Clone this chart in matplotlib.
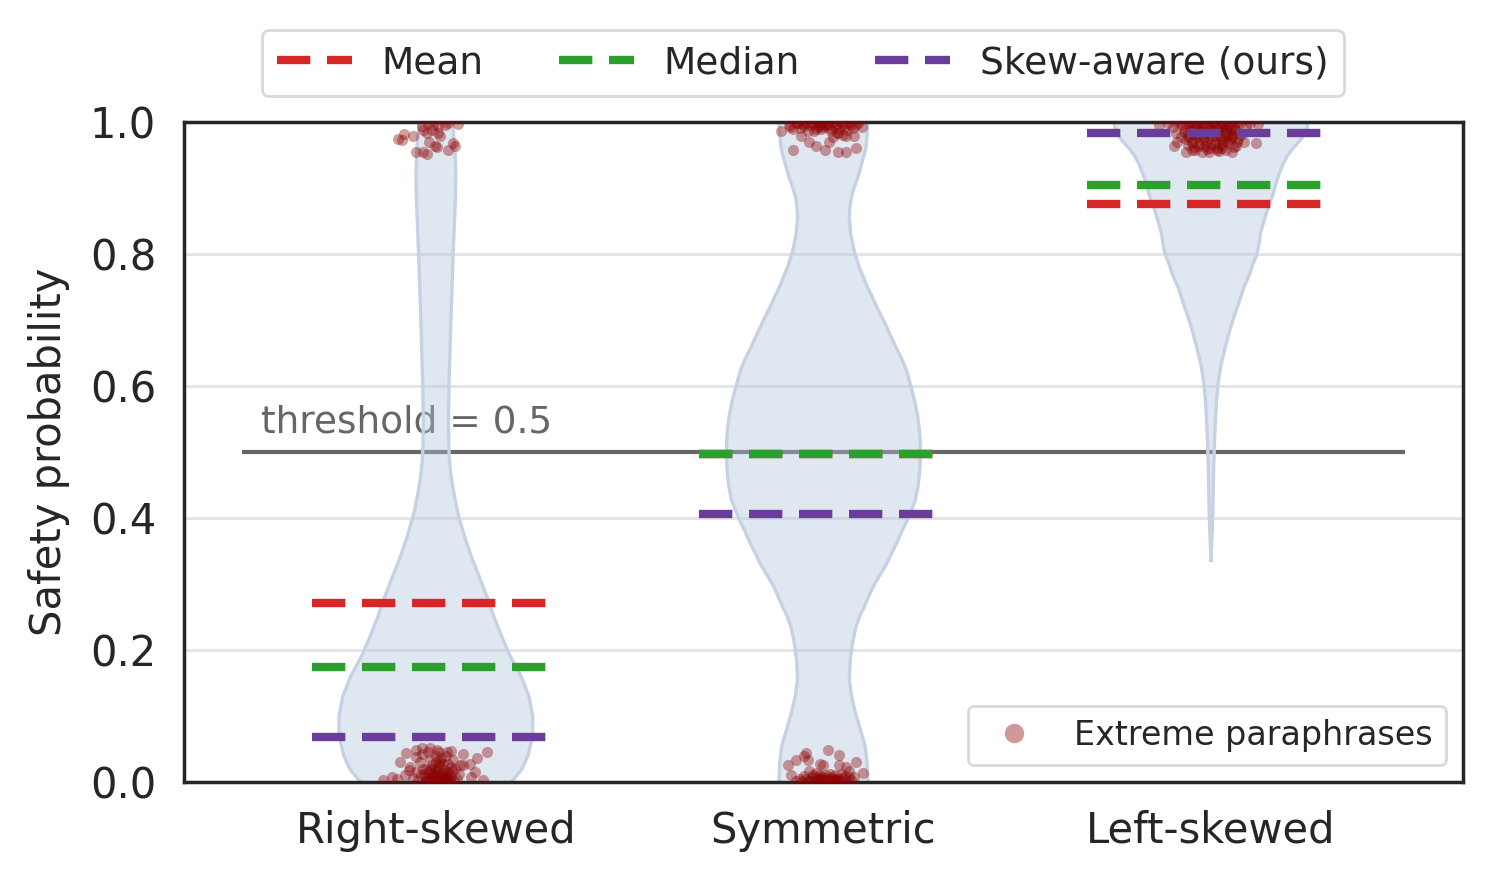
import matplotlib
matplotlib.use("Agg")
import matplotlib.pyplot as plt
from matplotlib.lines import Line2D
import numpy as np

# ----------------------------------------------------
# Data
# ----------------------------------------------------
categories = ["Right-skewed", "Symmetric", "Left-skewed"]
mean_vals = [0.271, 0.497, 0.876]
median_vals = [0.174, 0.497, 0.905]
skew_vals = [0.068, 0.406, 0.983]

# violin density profiles (relative density, max = 1)
rs_y = [0.000, 0.020, 0.040, 0.070, 0.100, 0.130, 0.160, 0.190, 0.220, 0.250,
        0.280, 0.310, 0.340, 0.370, 0.400, 0.415, 0.430, 0.445, 0.460, 0.475,
        0.490, 0.505, 0.520, 0.540, 0.560, 0.610, 0.700, 0.800, 0.880, 0.920,
        0.960, 1.000]
rs_density = [0.78, 0.89, 0.95, 1.00, 1.00, 0.96, 0.88, 0.77, 0.68, 0.60,
              0.53, 0.45, 0.37, 0.30, 0.24, 0.216, 0.196, 0.176, 0.16, 0.148,
              0.139, 0.135, 0.132, 0.131, 0.131, 0.137, 0.155, 0.178, 0.200, 0.206,
              0.196, 0.170]

sym_y = [0.000, 0.030, 0.055, 0.080, 0.105, 0.130, 0.156, 0.185, 0.210, 0.234,
         0.250, 0.265, 0.282, 0.298, 0.314, 0.330, 0.347, 0.363, 0.380, 0.395,
         0.412, 0.428, 0.447, 0.465, 0.483, 0.500, 0.518, 0.535, 0.557, 0.575,
         0.590, 0.606, 0.622, 0.639, 0.655, 0.671, 0.687, 0.704, 0.720, 0.736,
         0.751, 0.766, 0.780, 0.803, 0.830, 0.855, 0.870, 0.885, 0.900, 0.914,
         0.928, 0.940, 0.959, 0.980, 1.000]
sym_density = [0.46, 0.45, 0.43, 0.38, 0.33, 0.29, 0.267, 0.277, 0.30, 0.333,
               0.37, 0.42, 0.47, 0.52, 0.585, 0.65, 0.705, 0.76, 0.81, 0.86,
               0.91, 0.95, 0.975, 0.99, 0.998, 1.00, 0.998, 0.99, 0.97, 0.945,
               0.92, 0.89, 0.86, 0.815, 0.76, 0.71, 0.66, 0.605, 0.55, 0.50,
               0.45, 0.41, 0.37, 0.32, 0.282, 0.267, 0.272, 0.287, 0.315, 0.35,
               0.378, 0.40, 0.436, 0.451, 0.456]

ls_y = [0.336, 0.370, 0.405, 0.440, 0.480, 0.505, 0.531, 0.555, 0.582, 0.607,
        0.632, 0.657, 0.682, 0.705, 0.728, 0.750, 0.768, 0.785, 0.798, 0.815,
        0.834, 0.855, 0.874, 0.890, 0.910, 0.920, 0.935, 0.948, 0.960, 0.970,
        0.980, 0.990, 1.000]
ls_density = [0.0, 0.010, 0.018, 0.023, 0.028, 0.034, 0.041, 0.048, 0.059, 0.077,
              0.103, 0.144, 0.189, 0.237, 0.292, 0.340, 0.395, 0.433, 0.471, 0.495,
              0.515, 0.557, 0.598, 0.639, 0.677, 0.701, 0.739, 0.784, 0.845, 0.907,
              0.959, 0.990, 1.000]

# extreme paraphrases: horizontal jitter and score
rs_jitter = [-0.076, -0.093, -0.050, -0.037, -0.015, 0.002, 0.028, 0.070, 0.105, 0.131,
             0.088, 0.062, -0.114, -0.136, 0.122, -0.067,
             -0.030, 0.000, 0.020, -0.010, 0.040, -0.050, 0.010, -0.020, 0.030, 0.050,
             -0.040, 0.000, 0.015, -0.015, 0.035, -0.060, 0.060, -0.025, 0.025, 0.005,
             -0.045, 0.045, -0.005, 0.008, -0.035, 0.020, -0.070, 0.070, 0.000, -0.010,
             0.030, -0.050, 0.055, 0.012, -0.020, 0.040, -0.080, 0.090, -0.100, 0.100,
             -0.005, 0.018, -0.028, 0.038, 0.003, -0.012, 0.025, -0.038,
             -0.022, -0.008, 0.006, 0.016, 0.028, 0.042, -0.032, -0.018, 0.000, 0.012,
             0.024, 0.036, -0.026, -0.004, 0.008, 0.020, 0.032, -0.014, 0.004, 0.046,
             -0.097, -0.088, -0.082, -0.060, -0.050, -0.033, -0.024, -0.017, -0.011, -0.003,
             0.006, 0.010, 0.002, 0.032, 0.045, 0.057, -0.037, -0.007, 0.023, -0.024,
             -0.033, 0.006, 0.049, -0.020, 0.030]
rs_points = [0.044, 0.031, 0.048, 0.051, 0.051, 0.048, 0.046, 0.043, 0.036, 0.046,
             0.028, 0.026, 0.008, 0.003, 0.003, 0.023,
             0.012, 0.005, 0.018, 0.025, 0.008, 0.015, 0.032, 0.002, 0.028, 0.020,
             0.030, 0.040, 0.010, 0.035, 0.001, 0.006, 0.012, 0.020, 0.040, 0.022,
             0.002, 0.033, 0.014, 0.045, 0.042, 0.003, 0.018, 0.025, 0.030, 0.008,
             0.015, 0.038, 0.004, 0.037, 0.046, 0.047, 0.010, 0.008, 0.004, 0.015,
             0.001, 0.027, 0.007, 0.022, 0.017, 0.019, 0.006, 0.011,
             0.004, 0.009, 0.002, 0.013, 0.004, 0.016, 0.019, 0.016, 0.011, 0.001,
             0.012, 0.005, 0.002, 0.020, 0.028, 0.008, 0.010, 0.005, 0.009, 0.001,
             0.974, 0.973, 0.982, 0.979, 0.955, 0.954, 0.952, 0.970, 0.988, 0.963,
             0.983, 0.979, 0.962, 0.957, 0.968, 0.997, 0.994, 0.995, 0.995, 0.983,
             0.988, 0.994, 0.964, 0.999, 0.999]

sym_jitter = [-0.092, -0.070, -0.049, -0.045, -0.040, -0.010, -0.002, 0.011, 0.041, 0.041,
              0.058, 0.084, 0.101, -0.083, -0.036, -0.019, 0.067, 0.080,
              -0.060, -0.040, -0.020, 0.000, 0.020, 0.040, 0.060, 0.030, -0.010, 0.010,
              -0.030, 0.050, 0.070, -0.050, 0.015, -0.005, 0.025, -0.025, 0.045, -0.070,
              -0.045, -0.035, -0.015, 0.005, 0.025, 0.035, 0.055, -0.055, 0.065, -0.008,
              0.018, 0.042, -0.028, 0.002, 0.032,
              -0.109, -0.079, -0.057, -0.036, -0.019, 0.003, 0.015, 0.024, 0.037, 0.050,
              0.058, 0.080, 0.084, 0.037, 0.058, -0.079,
              -0.090, -0.070, -0.050, -0.030, -0.010, 0.010, 0.030, 0.050, 0.070, 0.090,
              -0.060, -0.040, -0.020, 0.000, 0.020, 0.040, 0.060, 0.100, -0.005, 0.015,
              -0.025, 0.045, -0.045, 0.035,
              -0.065, -0.035, -0.015, 0.005, 0.025, 0.055, 0.075, -0.055, -0.005, 0.035,
              0.065, 0.085, -0.085, 0.015, -0.025]
sym_points = [0.026, 0.034, 0.039, 0.044, 0.033, 0.028, 0.026, 0.048, 0.041, 0.026,
              0.022, 0.031, 0.014, 0.011, 0.016, 0.013, 0.016, 0.008,
              0.004, 0.002, 0.006, 0.003, 0.008, 0.004, 0.002, 0.010, 0.010, 0.001,
              0.008, 0.006, 0.003, 0.009, 0.005, 0.007, 0.002, 0.001, 0.012, 0.002,
              0.005, 0.001, 0.003, 0.010, 0.005, 0.001, 0.009, 0.001, 0.007, 0.004,
              0.012, 0.001, 0.011, 0.006, 0.004,
              0.987, 0.990, 0.979, 0.969, 0.964, 0.958, 0.970, 0.978, 0.983, 0.980,
              0.979, 0.979, 0.960, 0.954, 0.955, 0.957,
              0.996, 0.998, 0.994, 0.999, 0.995, 0.998, 0.993, 0.997, 0.995, 0.999,
              0.991, 0.986, 0.990, 0.992, 0.987, 0.990, 0.988, 0.992, 0.999, 0.996,
              0.997, 1.000, 0.999, 0.984,
              0.999, 0.996, 0.993, 0.995, 1.000, 0.994, 0.991, 0.997, 0.989, 0.997,
              0.999, 0.996, 0.993, 0.991, 0.987]

ls_jitter = [-0.095, -0.087, -0.078, -0.065, -0.048, -0.022, -0.005, 0.016, 0.029, 0.055,
             0.064, 0.085, 0.115, -0.099, -0.134, -0.091,
             -0.075, -0.060, -0.045, -0.030, -0.015, 0.000, 0.015, 0.030, 0.045, 0.060, 0.075,
             -0.070, -0.055, -0.040, -0.025, -0.010, 0.005, 0.020, 0.035, 0.050, 0.065,
             -0.065, -0.050, -0.035, -0.020, -0.005, 0.010, 0.025, 0.040, 0.055, 0.070,
             -0.060, -0.045, -0.030, -0.015, 0.000, 0.015, 0.030, 0.045, 0.060,
             -0.040, -0.010, 0.020, 0.040,
             -0.080, -0.052, -0.022, 0.008, 0.038, 0.068, 0.090, -0.090, 0.100, 0.120, -0.110,
             -0.035, 0.025, -0.002, 0.052, -0.062, 0.012, 0.078, -0.028, 0.042,
             -0.068, -0.052, -0.038, -0.022, -0.008, 0.006, 0.018, 0.032, 0.048, 0.062,
             -0.058, -0.042, -0.018, 0.002, 0.022, 0.038, 0.055, -0.048, -0.012, 0.012,
             0.028, -0.032, 0.048, 0.068, -0.002]
ls_points = [0.963, 0.970, 0.978, 0.955, 0.958, 0.954, 0.955, 0.958, 0.960, 0.955,
             0.963, 0.970, 0.968, 0.993, 0.995, 0.983,
             0.995, 0.998, 0.992, 0.999, 0.996, 0.998, 0.994, 0.999, 0.996, 0.993, 0.998,
             0.985, 0.988, 0.982, 0.986, 0.983, 0.987, 0.984, 0.988, 0.982, 0.986,
             0.975, 0.972, 0.977, 0.973, 0.976, 0.971, 0.975, 0.972, 0.977, 0.974,
             0.965, 0.962, 0.967, 0.963, 0.966, 0.961, 0.965, 0.968, 0.962,
             0.957, 0.959, 0.956, 0.958,
             0.999, 1.000, 0.991, 1.000, 0.991, 1.000, 0.996, 1.000, 0.999, 0.997, 0.998,
             0.994, 0.992, 0.990, 0.990, 0.980, 0.979, 0.981, 0.980, 0.979,
             0.990, 0.993, 0.997, 0.994, 0.992, 0.996, 0.990, 0.994, 0.999, 0.989,
             0.978, 0.980, 0.978, 0.981, 0.979, 0.983, 0.979, 0.968, 0.969, 0.966,
             0.970, 0.964, 0.974, 0.970, 0.960]

violin_y = [rs_y, sym_y, ls_y]
violin_density = [rs_density, sym_density, ls_density]
point_jitter = [rs_jitter, sym_jitter, ls_jitter]
point_vals = [rs_points, sym_points, ls_points]

# ----------------------------------------------------
# Plot
# ----------------------------------------------------
plt.rcParams["font.family"] = ["DejaVu Sans"]
text_col = "#262626"
plt.rcParams["text.color"] = text_col
plt.rcParams["axes.labelcolor"] = text_col
plt.rcParams["xtick.color"] = text_col
plt.rcParams["ytick.color"] = text_col

fig = plt.figure(figsize=(7.46, 4.415), dpi=200)
ax = fig.add_axes([0.1233, 0.1144, 0.8572, 0.7474])

half_width = 0.25
line_half = 0.32
dash = (0, (4, 2))

# threshold
ax.hlines(0.5, -0.5, 2.5, color="#666666", lw=1.5, zorder=1)
ax.text(-0.45, 0.53, "threshold = 0.5", color="#666666", fontsize=13.5,
        ha="left", va="baseline", zorder=1)

for i, cat in enumerate(categories):
    y = np.array(violin_y[i])
    w = np.array(violin_density[i]) * half_width
    ax.fill_betweenx(y, i - w, i + w, facecolor="lightsteelblue", alpha=0.4,
                     edgecolor="none", zorder=2)
    ax.plot(np.r_[i - w, (i + w)[::-1]], np.r_[y, y[::-1]],
            color="#c6d1e4", lw=1.2, zorder=2.1)

    ax.scatter(i + np.array(point_jitter[i]), point_vals[i], s=16,
               color="darkred", alpha=0.38, lw=0, zorder=3)

    ax.plot([i - line_half, i + line_half], [mean_vals[i]] * 2,
            color="#d62728", lw=3, ls=dash, zorder=4)
    ax.plot([i - line_half, i + line_half], [median_vals[i]] * 2,
            color="#2ca02c", lw=3, ls=dash, zorder=4)
    ax.plot([i - line_half, i + line_half], [skew_vals[i]] * 2,
            color="#6a3d9a", lw=3, ls=dash, zorder=4)

ax.set_xlim(-0.65, 2.65)
ax.set_ylim(0, 1)
ax.set_xticks(range(len(categories)))
ax.set_xticklabels(categories)
ax.set_yticks(np.arange(0, 1.01, 0.2))
ax.set_yticklabels([f"{v:.1f}" for v in np.arange(0, 1.01, 0.2)])
ax.tick_params(axis="both", length=0, pad=10, labelsize=15)
ax.set_ylabel("Safety probability", fontsize=15, labelpad=7)

ax.yaxis.grid(True, color="#e3e3e3", lw=1.0, zorder=0)
ax.set_axisbelow(True)
for sp in ax.spines.values():
    sp.set_color(text_col)
    sp.set_linewidth(1.25)

# legends
line_handles = [
    Line2D([], [], color="#d62728", lw=3, ls=dash),
    Line2D([], [], color="#2ca02c", lw=3, ls=dash),
    Line2D([], [], color="#6a3d9a", lw=3, ls=dash),
]
fig.legend(line_handles, ["Mean", "Median", "Skew-aware (ours)"], ncol=3,
           loc="upper center", bbox_to_anchor=(0.538, 0.966), borderaxespad=0,
           fontsize=13.5, frameon=True, edgecolor="#d0d0d0")

pt_handle = Line2D([], [], marker="o", ls="", color="darkred", alpha=0.4,
                   markersize=7, markeredgewidth=0)
ax.legend([pt_handle], ["Extreme paraphrases"], loc="lower right",
          fontsize=12, edgecolor="#d0d0d0")

fig.savefig("out.png", dpi=200)
